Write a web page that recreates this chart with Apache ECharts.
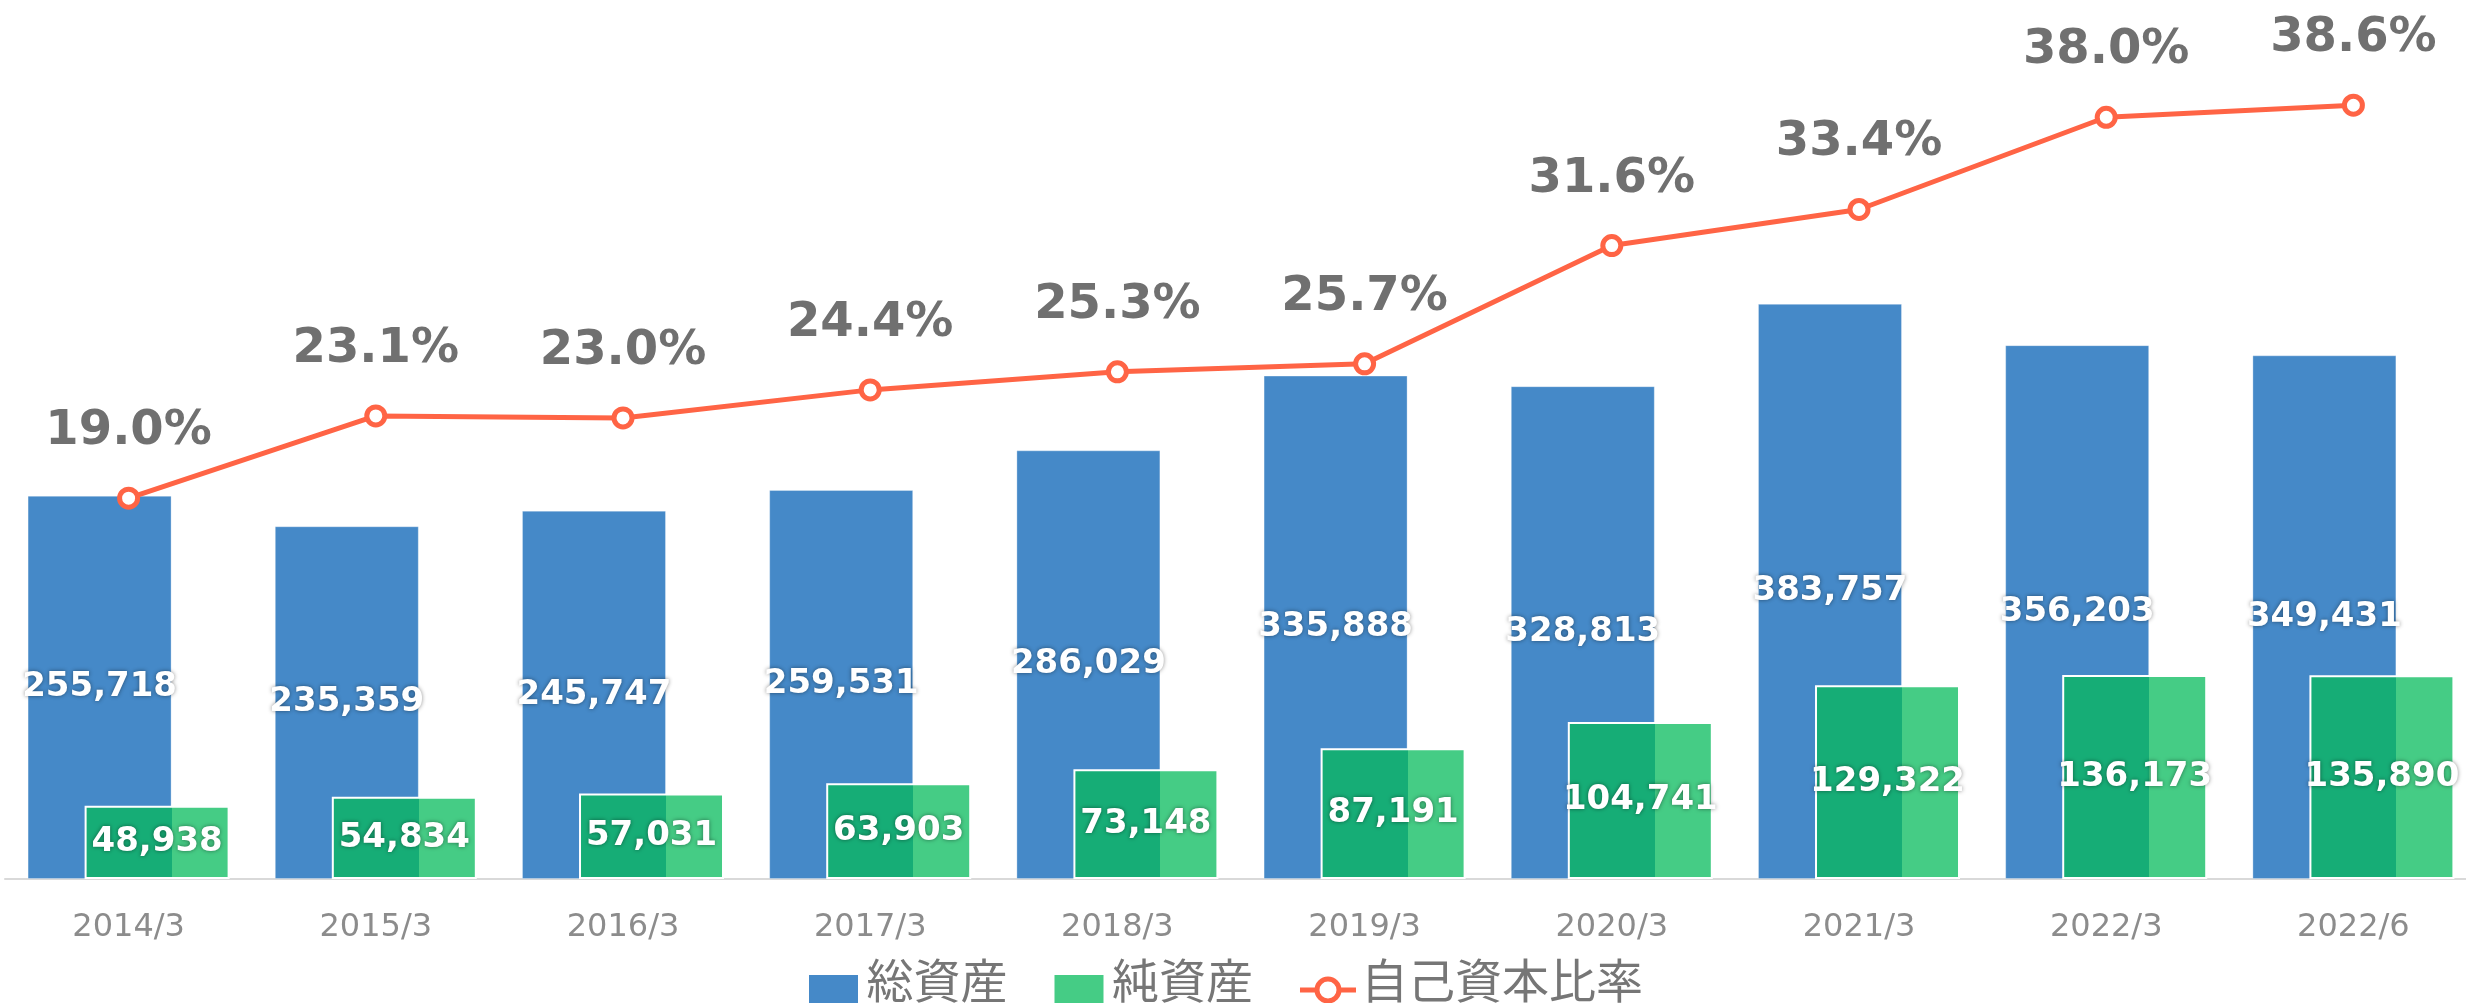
<!DOCTYPE html>
<html>
<head>
<meta charset="utf-8">
<script src="https://cdn.jsdelivr.net/npm/echarts@6/dist/echarts.min.js"></script>
<style>
  html, body { margin: 0; padding: 0; background: #ffffff; overflow: hidden; width: 2466px; height: 1003px; }
  #chart { width: 2490px; height: 1003px; }
</style>
</head>
<body>
<div id="chart"></div>
<script>
// Fiscal periods on the category axis
const periods = ['2014/3', '2015/3', '2016/3', '2017/3', '2018/3', '2019/3', '2020/3', '2021/3', '2022/3', '2022/6'];
// 総資産 (total assets)
const totalAssets = [255718, 235359, 245747, 259531, 286029, 335888, 328813, 383757, 356203, 349431];
// 純資産 (net assets)
const netAssets = [48938, 54834, 57031, 63903, 73148, 87191, 104741, 129322, 136173, 135890];
// 自己資本比率 (equity ratio, %)
const equityRatio = [19.0, 23.1, 23.0, 24.4, 25.3, 25.7, 31.6, 33.4, 38.0, 38.6];
const seriesNames = ['総資産', '純資産', '自己資本比率'];

const BLUE = '#4589C8';
const GREEN_DARK = '#16AD76';
const GREEN_LIGHT = '#45CC85';
const LINE = '#FF6445';

// Legend icons: a square sitting low in its box, and a line with a hollow ring
// (the leading moveTo widens the icon's box upward so the mark sits lower)
const SQUARE_ICON = 'path://M0,-39M0,0H49V49H0Z';
const RING_LINE_ICON = 'path://M0,-20M0,11H16V16H0Z M40,11H56V16H40Z ' +
  'M14.5,13.5A13.5,13.5 0 1,1 41.5,13.5A13.5,13.5 0 1,1 14.5,13.5Z ' +
  'M19.5,13.5A8.5,8.5 0 1,0 36.5,13.5A8.5,8.5 0 1,0 19.5,13.5Z';

const barLabel = {
  show: true,
  position: 'inside',
  color: '#ffffff',
  fontFamily: 'DejaVu Sans',
  fontWeight: 'bold',
  fontSize: 34,
  textShadowColor: 'rgba(0,0,0,0.45)',
  textShadowBlur: 4,
  formatter: p => p.value.toLocaleString('en-US')
};

const chart = echarts.init(document.getElementById('chart'), null, { renderer: 'canvas' });

chart.setOption({
  animation: false,
  backgroundColor: '#ffffff',
  grid: { left: 5, width: 2472, top: 0, height: 879, containLabel: false },
  legend: {
    top: 936,
    left: 809,
    padding: 0,
    itemWidth: 56,
    itemHeight: 88,
    itemGap: 47,
    textStyle: { color: '#767676', fontSize: 47, fontFamily: 'Noto Sans CJK JP' },
    data: [
      { name: seriesNames[0], icon: SQUARE_ICON, itemStyle: { color: BLUE, borderWidth: 0 } },
      { name: seriesNames[1], icon: SQUARE_ICON, itemStyle: { color: GREEN_LIGHT, borderWidth: 0 } },
      { name: seriesNames[2], icon: RING_LINE_ICON, itemStyle: { color: LINE, borderWidth: 0 } }
    ]
  },
  xAxis: {
    type: 'category',
    data: periods,
    boundaryGap: true,
    axisLine: { show: true, lineStyle: { color: '#D9D9D9', width: 2 } },
    axisTick: { show: false },
    axisLabel: { color: '#8C8C8C', fontSize: 32, fontFamily: 'DejaVu Sans', margin: 33 },
    splitLine: { show: false }
  },
  yAxis: [
    { type: 'value', min: 0, max: 586500, show: false, splitLine: { show: false } },
    { type: 'value', min: 0, max: 43.85, show: false, splitLine: { show: false } }
  ],
  series: [
    {
      name: seriesNames[0],
      type: 'bar',
      data: totalAssets,
      barWidth: 144,
      barGap: '-60.4%',
      itemStyle: { color: BLUE, borderColor: 'rgba(255,255,255,0.3)', borderWidth: 1 },
      label: barLabel,
      z: 2
    },
    {
      name: seriesNames[1],
      type: 'bar',
      data: netAssets,
      barWidth: 145,
      barGap: '-60.4%',
      itemStyle: {
        color: new echarts.graphic.LinearGradient(0, 0, 1, 0, [
          { offset: 0, color: GREEN_DARK },
          { offset: 0.6, color: GREEN_DARK },
          { offset: 0.6, color: GREEN_LIGHT },
          { offset: 1, color: GREEN_LIGHT }
        ]),
        borderColor: '#ffffff',
        borderWidth: 2
      },
      label: barLabel,
      z: 3
    },
    {
      name: seriesNames[2],
      type: 'line',
      yAxisIndex: 1,
      data: equityRatio,
      symbol: 'circle',
      symbolSize: 18,
      lineStyle: { color: LINE, width: 5 },
      itemStyle: { color: '#ffffff', borderColor: LINE, borderWidth: 5 },
      label: {
        show: true,
        position: 'top',
        distance: 31,
        color: '#707070',
        fontFamily: 'DejaVu Sans',
        fontWeight: 'bold',
        fontSize: 48,
        formatter: p => p.value.toFixed(1) + '%'
      },
      z: 5
    }
  ]
});
</script>
</body>
</html>
